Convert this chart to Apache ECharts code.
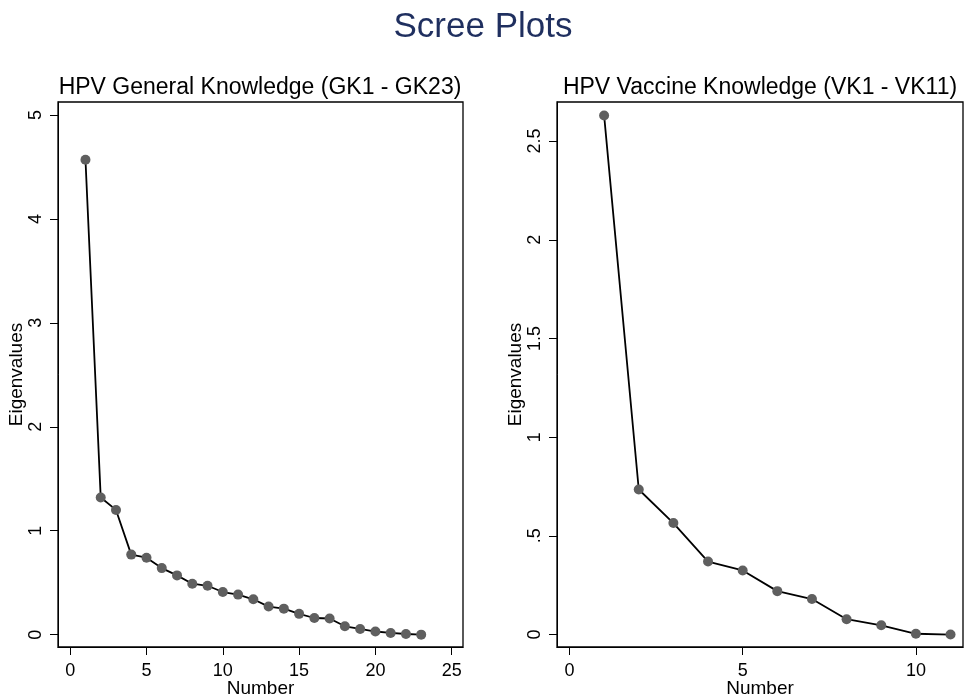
<!DOCTYPE html>
<html>
<head>
<meta charset="utf-8">
<title>Scree Plots</title>
<script src="https://cdn.jsdelivr.net/npm/echarts@6/dist/echarts.min.js"></script>
<style>
  html, body { margin: 0; padding: 0; background: #fff; }
  #chart { width: 966px; height: 697px; }
</style>
</head>
<body>
<div id="chart"></div>
<script>
// GK1 - GK23
const gkNumber = [1, 2, 3, 4, 5, 6, 7, 8, 9, 10, 11, 12, 13, 14, 15, 16, 17, 18, 19, 20, 21, 22, 23]
const gkEigen = [4.57, 1.32, 1.20, 0.77, 0.74, 0.64, 0.57, 0.49, 0.47, 0.41, 0.385, 0.34, 0.27, 0.25, 0.20, 0.16, 0.155, 0.08, 0.055, 0.03, 0.016, 0.006, 0.0]
// VK1 - VK11
const vkNumber = [1, 2, 3, 4, 5, 6, 7, 8, 9, 10, 11]
const vkEigen = [2.63, 0.735, 0.565, 0.37, 0.325, 0.22, 0.18, 0.078, 0.047, 0.004, 0.0]

const gkXTicks = [0, 5, 10, 15, 20, 25]
const gkYTicks = [0, 1, 2, 3, 4, 5]
const gkYLabels = ['0', '1', '2', '3', '4', '5']
const vkXTicks = [0, 5, 10]
const vkYTicks = [0, 0.5, 1, 1.5, 2, 2.5]
const vkYLabels = ['0', '.5', '1', '1.5', '2', '2.5']

const FONT = 'Liberation Sans, Arial, sans-serif'

const pairs = (xs, ys) => xs.map((x, i) => [x, ys[i]])

const xAxisOf = (gridIndex, min, max, ticks) => ({
  type: 'value',
  gridIndex,
  min,
  max,
  name: 'Number',
  nameLocation: 'middle',
  nameGap: 32,
  nameMoveOverlap: false,
  nameTextStyle: { color: '#000', fontSize: 19, fontFamily: FONT },
  axisLine: { show: true, onZero: false, lineStyle: { color: '#000', width: 1 } },
  axisTick: { show: true, length: 8, customValues: ticks, lineStyle: { color: '#000' } },
  axisLabel: { color: '#000', fontSize: 18, fontFamily: FONT, margin: 15, customValues: ticks },
  splitLine: { show: false }
})

const yAxisOf = (gridIndex, min, max, ticks, labels) => ({
  type: 'value',
  gridIndex,
  min,
  max,
  name: 'Eigenvalues',
  nameLocation: 'middle',
  nameRotate: 90,
  nameGap: 32,
  nameMoveOverlap: false,
  nameTextStyle: { color: '#000', fontSize: 19, fontFamily: FONT },
  axisLine: { show: true, onZero: false, lineStyle: { color: '#000', width: 1 } },
  axisTick: { show: true, length: 8, customValues: ticks, lineStyle: { color: '#000' } },
  axisLabel: {
    color: '#000',
    fontSize: 18,
    fontFamily: FONT,
    rotate: 90,
    margin: 13,
    customValues: ticks,
    formatter: v => {
      const i = ticks.findIndex(t => Math.abs(t - v) < 1e-9)
      return i >= 0 ? labels[i] : ''
    }
  },
  splitLine: { show: false }
})

const screeSeries = (idx, data) => ({
  type: 'line',
  xAxisIndex: idx,
  yAxisIndex: idx,
  data,
  symbol: 'circle',
  symbolSize: 10,
  showAllSymbol: true,
  itemStyle: { color: '#5f5f5f' },
  lineStyle: { color: '#000', width: 1.8 },
  silent: true
})

const chart = echarts.init(document.getElementById('chart'))
chart.setOption({
  animation: false,
  backgroundColor: '#fff',
  title: [
    {
      text: 'Scree Plots',
      left: 483,
      top: 10,
      textAlign: 'center',
      padding: 0,
      textStyle: { color: '#1f2f5f', fontSize: 35, fontWeight: 'normal', fontFamily: FONT }
    },
    {
      text: 'HPV General Knowledge (GK1 - GK23)',
      left: 260,
      top: 76,
      textAlign: 'center',
      padding: 0,
      textStyle: { color: '#000', fontSize: 23, fontWeight: 'normal', fontFamily: FONT }
    },
    {
      text: 'HPV Vaccine Knowledge (VK1 - VK11)',
      left: 760,
      top: 76,
      textAlign: 'center',
      padding: 0,
      textStyle: { color: '#000', fontSize: 23, fontWeight: 'normal', fontFamily: FONT }
    }
  ],
  grid: [
    { left: 58, right: 503, top: 102, bottom: 50, outerBoundsMode: 'none', containLabel: false, show: true, borderColor: '#000', borderWidth: 1.3, backgroundColor: '#fff' },
    { left: 557, right: 3, top: 102, bottom: 50, outerBoundsMode: 'none', containLabel: false, show: true, borderColor: '#000', borderWidth: 1.3, backgroundColor: '#fff' }
  ],
  xAxis: [
    xAxisOf(0, -0.8, 25.74, gkXTicks),
    xAxisOf(1, -0.36, 11.36, vkXTicks)
  ],
  yAxis: [
    yAxisOf(0, -0.119, 5.125, gkYTicks, gkYLabels),
    yAxisOf(1, -0.063, 2.698, vkYTicks, vkYLabels)
  ],
  series: [
    screeSeries(0, pairs(gkNumber, gkEigen)),
    screeSeries(1, pairs(vkNumber, vkEigen))
  ]
})
</script>
</body>
</html>
